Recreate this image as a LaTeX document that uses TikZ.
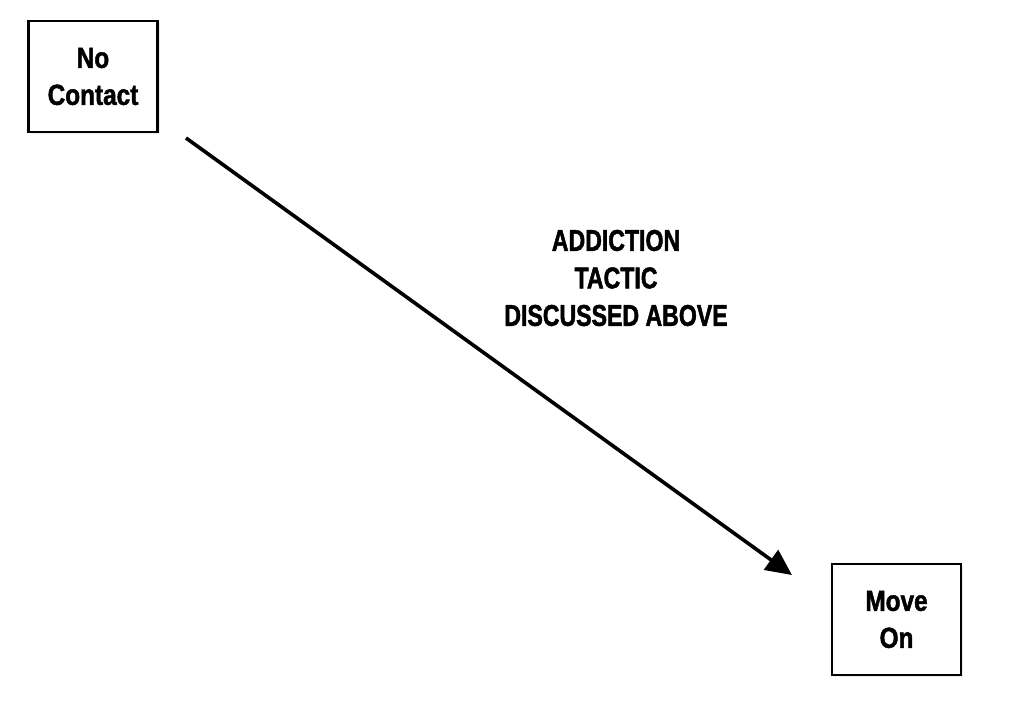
\documentclass[tikz,border=0pt]{standalone}
\usepackage{fontspec}
\setmainfont{Liberation Sans}
\newfontfamily\boxfont[FakeStretch=0.84, BoldFeatures={FakeBold=1.6}]{Liberation Sans}
\newfontfamily\labfont[FakeStretch=0.77, BoldFeatures={FakeBold=1.6}]{Liberation Sans}
\usetikzlibrary{arrows.meta,shadows}
\tikzset{
  statebox/.style={draw=black, line width=2.8pt, fill=white, minimum width=129pt, minimum height=111pt,
    inner sep=0pt, align=center, font=\boxfont\bfseries\fontsize{29}{37}\selectfont,
    drop shadow={shadow xshift=2pt, shadow yshift=-2pt, fill=black!12, opacity=0.6}},
  labeltext/.style={align=center, font=\labfont\bfseries\fontsize{30}{37.5}\selectfont, inner sep=0pt},
  flow/.style={line width=3.6pt, -{Triangle[length=26pt,width=24pt]}}
}
\begin{document}
\begin{tikzpicture}[x=1pt,y=-1pt]
\useasboundingbox[fill=white] (0,0) rectangle (1024,724);
\node[statebox] (nc) at (93,76.5) {No\\Contact};
\node[statebox] (mo) at (896.5,619.5) {Move\\On};
\coordinate (s) at (186,138);
\coordinate (e) at (792,575);
\draw[flow] (s) -- (e);
\node[labeltext] (lab) at (616,278) {ADDICTION\\TACTIC\\DISCUSSED ABOVE};
\end{tikzpicture}
\end{document}
